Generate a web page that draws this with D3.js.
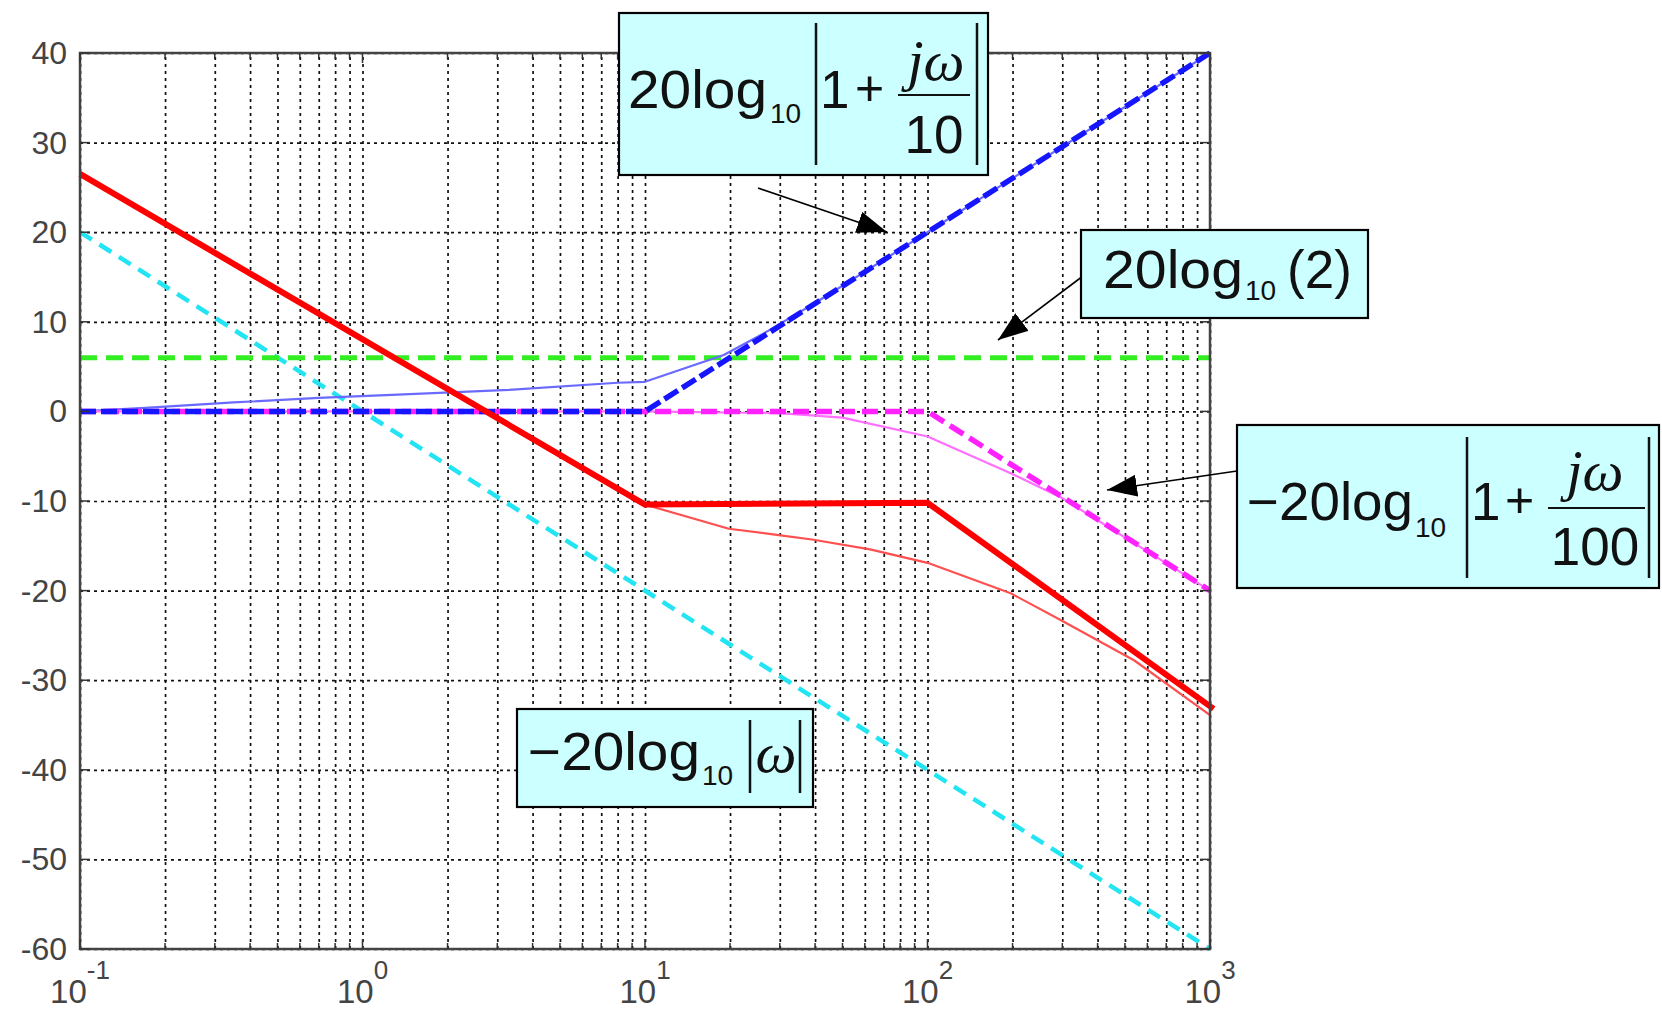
<!DOCTYPE html>
<html>
<head>
<meta charset="utf-8">
<script src="https://cdn.jsdelivr.net/npm/d3@7"></script>
<style>
  body { margin: 0; background: #fff; }
  svg { display: block; }
</style>
</head>
<body>
<svg id="bodeRender"></svg>
<script>
// [A] Datos de la grafica -------------------------------------------------
const xDomain = [0.1, 1000];
const yDomain = [-60, 40];
const yTickValues = [40, 30, 20, 10, 0, -10, -20, -30, -40, -50, -60];
const xExponents = [-1, 0, 1, 2, 3];

// [A.1] Series (frecuencia en rad/s, magnitud en dB)
const cyanW = [0.1, 1000];
const cyanDb = [20, -60];
const greenW = [0.1, 1000];
const greenDb = [6, 6];
const blueAsymW = [0.1, 10, 1000];
const blueAsymDb = [0, 0, 40];
const blueExactW = [0.1, 0.17, 0.35, 0.7, 1.4, 3.3, 8, 10, 19, 26, 40, 100, 1000];
const blueExactDb = [0, 0.4, 1.0, 1.5, 1.9, 2.4, 3.2, 3.3, 6.3, 8.6, 12.1, 20, 40];
const magAsymW = [0.1, 100, 1000];
const magAsymDb = [0, 0, -20];
const magExactW = [0.1, 10, 30, 50, 100, 197, 297, 1000];
const magExactDb = [0, 0, -0.2, -0.7, -2.8, -6.9, -9.6, -20];
const redAsymW = [0.1, 10, 100, 1030];
const redAsymDb = [26.5, -10.4, -10.2, -33.2];
const redExactW = [10, 19.8, 29.7, 39, 62.6, 100, 197, 297, 540, 1000];
const redExactDb = [-10.4, -13.1, -13.8, -14.3, -15.4, -16.9, -20.3, -23.3, -27.8, -33.9];

// [B] Configuracion ---------------------------------------------------------
const width = 1662;
const height = 1011;
const plot = { left: 80, right: 1210, top: 53, bottom: 949 };
const sans = "'Liberation Sans', Arial, Helvetica, sans-serif";
const serif = "'Liberation Serif', 'Times New Roman', serif";

const x = d3.scaleLog().domain(xDomain).range([plot.left, plot.right]);
const y = d3.scaleLinear().domain(yDomain).range([plot.bottom, plot.top]);

const svg = d3.select("#bodeRender")
    .attr("width", width)
    .attr("height", height)
    .attr("viewBox", `0 0 ${width} ${height}`);

// Punta de flecha
svg.append("defs").append("marker")
    .attr("id", "arrowHead")
    .attr("markerUnits", "userSpaceOnUse")
    .attr("markerWidth", 32)
    .attr("markerHeight", 24)
    .attr("refX", 30)
    .attr("refY", 11)
    .attr("orient", "auto")
    .append("path")
    .attr("d", "M0,0 L30,11 L0,22 Z")
    .attr("fill", "#000");

// [C] Cuadricula ------------------------------------------------------------
const gridX = svg.append("g")
    .attr("transform", `translate(0,${plot.bottom})`)
    .call(d3.axisBottom(x).ticks(10).tickSize(-(plot.bottom - plot.top)).tickFormat(""));
const gridY = svg.append("g")
    .attr("transform", `translate(${plot.left},0)`)
    .call(d3.axisLeft(y).tickValues(yTickValues).tickSize(-(plot.right - plot.left)).tickFormat(""));

[gridX, gridY].forEach(g => {
    g.select(".domain").remove();
    g.selectAll(".tick line")
        .attr("stroke", "#111")
        .attr("stroke-width", 1.7)
        .attr("stroke-dasharray", "3,4");
});

// [D] Curvas ----------------------------------------------------------------
const line = d3.line().x(d => x(d[0])).y(d => y(d[1]));
const zip = (w, db) => w.map((v, i) => [v, db[i]]);

const series = [
    { pts: zip(cyanW, cyanDb), color: "#22e4f2", w: 4.5, dash: "14,9" },
    { pts: zip(greenW, greenDb), color: "#33ee22", w: 5, dash: "17,9" },
    { pts: zip(blueExactW, blueExactDb), color: "#6a6aff", w: 2.2, dash: null },
    { pts: zip(magExactW, magExactDb), color: "#ff70ff", w: 2.2, dash: null },
    { pts: zip(redExactW, redExactDb), color: "#ff5050", w: 2.2, dash: null },
    { pts: zip(magAsymW, magAsymDb), color: "#ff22ff", w: 5.5, dash: "16,7" },
    { pts: zip(blueAsymW, blueAsymDb), color: "#1515ff", w: 5.5, dash: "16,5" },
    { pts: zip(redAsymW, redAsymDb), color: "#ff0000", w: 6, dash: null }
];

svg.append("g")
    .selectAll("path")
    .data(series)
    .join("path")
    .attr("d", d => line(d.pts))
    .attr("fill", "none")
    .attr("stroke", d => d.color)
    .attr("stroke-width", d => d.w)
    .attr("stroke-dasharray", d => d.dash)
    .attr("stroke-linejoin", "round");

// [E] Marco, marcas y etiquetas ---------------------------------------------
svg.append("rect")
    .attr("x", plot.left).attr("y", plot.top)
    .attr("width", plot.right - plot.left)
    .attr("height", plot.bottom - plot.top)
    .attr("fill", "none")
    .attr("stroke", "#444")
    .attr("stroke-width", 2.5);

const tickG = svg.append("g").attr("stroke", "#333").attr("stroke-width", 1.5);
x.ticks(10).forEach(v => {
    const major = Math.abs(Math.log10(v) - Math.round(Math.log10(v))) < 1e-6;
    const len = major ? 10 : 6;
    tickG.append("line").attr("x1", x(v)).attr("x2", x(v)).attr("y1", plot.bottom).attr("y2", plot.bottom - len);
    tickG.append("line").attr("x1", x(v)).attr("x2", x(v)).attr("y1", plot.top).attr("y2", plot.top + len);
});
yTickValues.forEach(v => {
    tickG.append("line").attr("x1", plot.left).attr("x2", plot.left + 10).attr("y1", y(v)).attr("y2", y(v));
    tickG.append("line").attr("x1", plot.right).attr("x2", plot.right - 10).attr("y1", y(v)).attr("y2", y(v));
});

svg.append("g")
    .selectAll("text")
    .data(yTickValues)
    .join("text")
    .attr("x", 67)
    .attr("y", d => y(d) + 11)
    .attr("text-anchor", "end")
    .attr("font-family", sans)
    .attr("font-size", 32)
    .attr("fill", "#444")
    .text(d => String(d));

const xLab = svg.append("g")
    .selectAll("text")
    .data(xExponents)
    .join("text")
    .attr("x", d => x(Math.pow(10, d)))
    .attr("y", 1003)
    .attr("text-anchor", "middle")
    .attr("font-family", sans)
    .attr("fill", "#444");
xLab.append("tspan").attr("font-size", 33).text("10");
xLab.append("tspan").attr("font-size", 26).attr("dy", -24).text(d => String(d));

// [F] Cuadros de anotacion --------------------------------------------------
function box(x0, y0, w, h) {
    svg.append("rect")
        .attr("x", x0).attr("y", y0).attr("width", w).attr("height", h)
        .attr("fill", "#ccffff")
        .attr("stroke", "#000")
        .attr("stroke-width", 2.2);
}

function txt(str, tx, ty, size, opts = {}) {
    const t = svg.append("text")
        .attr("x", tx).attr("y", ty)
        .attr("font-family", opts.serif ? serif : sans)
        .attr("font-style", opts.serif ? "italic" : "normal")
        .attr("font-size", size)
        .attr("fill", "#111")
        .attr("text-anchor", opts.anchor || "start")
        .text(str);
    if (opts.len) t.attr("textLength", opts.len).attr("lengthAdjust", "spacingAndGlyphs");
    return t;
}

function vbar(bx, y1, y2) {
    svg.append("line").attr("x1", bx).attr("x2", bx).attr("y1", y1).attr("y2", y2)
        .attr("stroke", "#111").attr("stroke-width", 2.5);
}

function hbar(x1, x2, by) {
    svg.append("line").attr("x1", x1).attr("x2", x2).attr("y1", by).attr("y2", by)
        .attr("stroke", "#111").attr("stroke-width", 2);
}

function arrow(x1, y1, x2, y2) {
    svg.append("line").attr("x1", x1).attr("y1", y1).attr("x2", x2).attr("y2", y2)
        .attr("stroke", "#000").attr("stroke-width", 1.6)
        .attr("marker-end", "url(#arrowHead)");
}

// [F.1] 20log10|1 + jw/10|
arrow(758, 188, 887, 232);
box(619, 13, 369, 162);
txt("20log", 628, 108, 53, { len: 139 });
txt("10", 770, 123, 28);
vbar(816, 23, 165);
txt("1", 820, 108, 53);
txt("+", 855, 105, 50);
hbar(898, 970, 95);
txt("j\u03C9", 936, 80, 58, { serif: true, anchor: "middle" });
txt("10", 934, 153, 53, { anchor: "middle" });
vbar(977, 23, 165);

// [F.2] 20log10(2)
arrow(1083, 276, 998, 340);
box(1081, 230, 287, 88);
txt("20log", 1103, 288, 53, { len: 140 });
txt("10", 1245, 300, 28);
txt("(2)", 1287, 288, 53);

// [F.3] -20log10|1 + jw/100|
arrow(1237, 471, 1107, 490);
box(1237, 425, 422, 163);
txt("\u221220log", 1247, 520, 53, { len: 166 });
txt("10", 1415, 537, 28);
vbar(1467, 437, 578);
txt("1", 1471, 520, 53);
txt("+", 1505, 517, 50);
hbar(1548, 1645, 508);
txt("j\u03C9", 1595, 490, 58, { serif: true, anchor: "middle" });
txt("100", 1595, 565, 53, { anchor: "middle" });
vbar(1649, 437, 578);

// [F.4] -20log10|w|
box(517, 709, 296, 98);
txt("\u221220log", 528, 770, 53, { len: 172 });
txt("10", 702, 785, 28);
vbar(750, 720, 793);
txt("\u03C9", 776, 772, 58, { serif: true, anchor: "middle" });
vbar(800, 720, 793);
</script>
</body>
</html>
